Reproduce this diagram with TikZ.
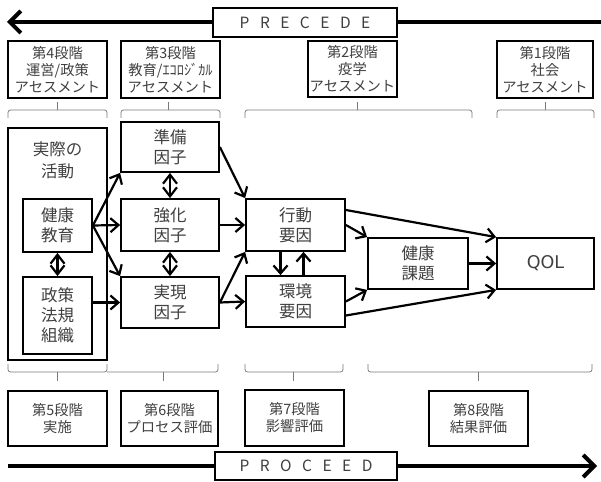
\documentclass[tikz,border=0pt]{standalone}
\usepackage{fontspec}
\setmainfont{Noto Sans CJK JP}
\newfontfamily\qolfont{DejaVu Sans}
\usetikzlibrary{arrows.meta,calc}
\definecolor{txt}{HTML}{404040}
\definecolor{brkc}{HTML}{7A7A7A}
\begin{document}
\begin{tikzpicture}[x=1pt,y=-1pt,
  box/.style={draw, line width=1.8pt, fill=white, inner sep=0pt, text=txt, align=center, font=\fontsize{16.5}{20}\selectfont},
  stg/.style={draw, line width=1.8pt, fill=white, inner sep=0pt, text=txt, align=center, font=\fontsize{14.3}{17}\selectfont},
  arr/.style={line width=2.2pt, -{Straight Barb[length=8pt,width=14pt]}},
  darr/.style={line width=2.2pt, {Straight Barb[length=9pt,width=14pt]}-{Straight Barb[length=9pt,width=14pt]}},
  brk/.style={draw=brkc, line width=0.8pt, rounded corners=2.5pt},
  big/.style={line width=4pt, -{Straight Barb[length=11pt,width=22pt]}},
  ttl/.style={draw, line width=1.3pt, fill=white, inner sep=0pt, text=txt, font=\fontsize{15.5}{18}\selectfont}
]
\useasboundingbox (0,0) rectangle (601,481);

% PRECEDE / PROCEED arrows
\coordinate (precR) at (601,22);
\coordinate (precL) at (7,22);
\coordinate (procL) at (8,466);
\coordinate (procR) at (597,466);
\draw[big] (precR) -- (precL);
\draw[big] (procL) -- (procR);
\node[ttl, minimum width=184pt, minimum height=29pt] (precede) at (305,22.5)
  {P\kern10.5pt R\kern10.5pt E\kern10.5pt C\kern10.5pt E\kern10.5pt D\kern10.5pt E};
\node[ttl, minimum width=182pt, minimum height=28pt] (proceed) at (306,466)
  {P\kern10.5pt R\kern10.5pt O\kern10.5pt C\kern10.5pt E\kern10.5pt E\kern10.5pt D};

% stage boxes top
\node[stg, minimum width=99pt, minimum height=57pt] (s4) at (57.5,69.5) {第4段階\\運営/政策\\アセスメント};
\node[stg, minimum width=99pt, minimum height=57pt] (s3) at (170.5,69.5) {第3段階\\教育/ｴｺﾛｼﾞｶﾙ\\アセスメント};
\node[stg, minimum width=89pt, minimum height=56pt] (s2) at (352.5,69) {第2段階\\疫学\\アセスメント};
\node[stg, minimum width=96pt, minimum height=57pt] (s1) at (545,69.5) {第1段階\\社会\\アセスメント};

% top brackets
\draw[brk] (8,118) -- (8,110) -- (107,110) -- (107,118);
\draw[brk] (57,110) -- (57,102);
\draw[brk] (121,118) -- (121,110) -- (220,110) -- (220,118);
\draw[brk] (168,110) -- (168,102);
\draw[brk] (245,118) -- (245,110) -- (472,110) -- (472,118);
\draw[brk] (357,110) -- (357,102);
\draw[brk] (497,118) -- (497,110) -- (594,110) -- (594,118);
\draw[brk] (545,110) -- (545,102);

% main boxes
\node[box, minimum width=99pt, minimum height=232pt,
  label={[text=txt, align=center, font=\fontsize{16.5}{22}\selectfont, anchor=north, yshift=-11pt]north:実際の\\活動}] (jissai) at (57.5,244) {};
\node[box, minimum width=69pt, minimum height=53pt] (kenkyo) at (57.5,225.5) {健康\\教育};
\node[box, minimum width=69pt, minimum height=77pt] (seisaku) at (57.5,315.5) {政策\\法規\\組織};
\node[box, minimum width=98pt, minimum height=50pt] (junbi) at (170,147) {準備\\因子};
\node[box, minimum width=98pt, minimum height=52pt] (kyoka) at (170,225) {強化\\因子};
\node[box, minimum width=98pt, minimum height=51pt] (jitsugen) at (170,302.5) {実現\\因子};
\node[box, minimum width=99pt, minimum height=52pt] (kodo) at (295.5,225) {行動\\要因};
\node[box, minimum width=99pt, minimum height=51pt] (kankyo) at (295.5,301.5) {環境\\要因};
\node[box, minimum width=100pt, minimum height=51pt] (kadai) at (418,263.5) {健康\\課題};
\node[box, minimum width=97pt, minimum height=51pt, font=\qolfont\fontsize{17.5}{20}\selectfont] (qol) at (545.5,263.5) {QOL};

% connectors
\draw[arr] (kenkyo.east) -- (junbi.south west);
\draw[arr] (kenkyo.east) -- (kyoka.west);
\draw[arr] (kenkyo.east) -- (jitsugen.north west);
\draw[darr] (kenkyo.south) -- (seisaku.north);
\draw[arr] (seisaku.east |- jitsugen.west) -- (jitsugen.west);
\draw[darr] (junbi.south) -- (kyoka.north);
\draw[darr] (kyoka.south) -- (jitsugen.north);
\draw[arr] (junbi.east) -- (kodo.north west);
\draw[arr] (kyoka.east) -- (kodo.west);
\draw[arr] (jitsugen.east) -- (kodo.south west);
\draw[arr] (jitsugen.east) -- (kankyo.west);
\draw[arr] ([xshift=-15pt]kodo.south) -- ([xshift=-15pt]kankyo.north);
\draw[arr] ([xshift=8pt]kankyo.north) -- ([xshift=8pt]kodo.south);
\draw[arr] ($(kodo.east)+(0,-15)$) -- (qol.north west);
\draw[arr] (kodo.east) -- (kadai.north west);
\draw[arr] (kankyo.east) -- (kadai.south west);
\draw[arr] ($(kankyo.east)+(0,14)$) -- (qol.south west);
\draw[arr] (kadai.east) -- (qol.west);

% bottom brackets
\draw[brk] (8,364) -- (8,372) -- (107,372) -- (107,364);
\draw[brk] (57,372) -- (57,381);
\draw[brk] (107,372) -- (218,372) -- (218,364);
\draw[brk] (163,372) -- (163,381);
\draw[brk] (245,364) -- (245,372) -- (343,372) -- (343,364);
\draw[brk] (293,372) -- (293,381);
\draw[brk] (368,364) -- (368,372) -- (592,372) -- (592,364);
\draw[brk] (478,372) -- (478,381);

% stage boxes bottom
\node[stg, minimum width=99pt, minimum height=55pt] (s5) at (57.5,418.5) {第5段階\\実施};
\node[stg, minimum width=97pt, minimum height=55pt] (s6) at (169.5,418.5) {第6段階\\プロセス評価};
\node[stg, minimum width=99pt, minimum height=56pt] (s7) at (294.5,418) {第7段階\\影響評価};
\node[stg, minimum width=99pt, minimum height=55pt] (s8) at (478.5,418.5) {第8段階\\結果評価};
\end{tikzpicture}
\end{document}
